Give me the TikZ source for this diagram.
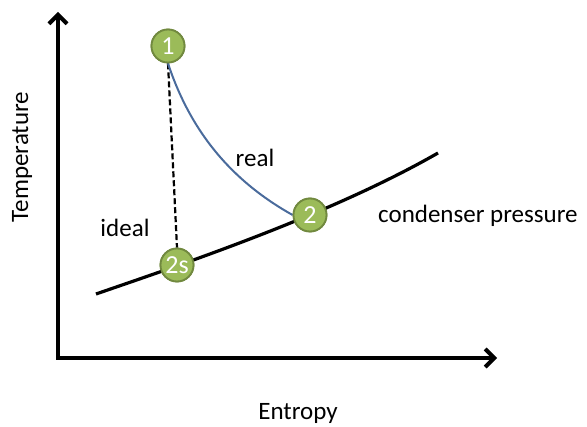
\documentclass[tikz,border=0pt]{standalone}
\usepackage{fontspec}
\setmainfont{Carlito}
\usetikzlibrary{arrows.meta}
\definecolor{ptfill}{HTML}{9BBB59}
\definecolor{ptdraw}{HTML}{71893F}
\definecolor{realblue}{HTML}{4A6B9C}
\begin{document}
\begin{tikzpicture}[x=1pt,y=-1pt,
  pt/.style={circle,fill=ptfill,draw=ptdraw,line width=1.8pt,minimum size=33pt,inner sep=0pt,text=white,font=\fontsize{26}{26}\selectfont},
  axis/.style={line width=4pt,-{Straight Barb[length=9pt,width=18pt,line width=4pt]}},
  lbl/.style={font=\fontsize{25}{28}\selectfont,inner sep=0pt}]
\useasboundingbox (0,0) rectangle (587,427);
\coordinate (O) at (58,358);
\coordinate (ytip) at (58,12);
\coordinate (xtip) at (497,358);
\draw[axis] (O) -- (ytip);
\draw[axis] ([xshift=-2pt]O) -- (xtip);
\coordinate (cs) at (96,294);
\coordinate (ce) at (438,153);
\node[pt] (p1) at (168,46) {1};
\node[pt] (p2s) at (177,265) {2s};
\node[pt] (p2) at (310,215) {2};
\draw[line width=3.2pt] (cs) .. controls (180,265) and (330,215) .. (ce);
\draw[line width=2.2pt,dash pattern=on 6pt off 3pt] (p1.south) -- (p2s.north);
\draw[realblue,line width=2pt] (p1.south) .. controls (190,130) and (230,180) .. (p2.west);
\node[pt] at (p1) {1};
\node[pt] at (p2s) {2s};
\node[pt] at (p2) {2};
\node[lbl] (ideal) at (125,228) {ideal};
\node[lbl] (real) at (255,158) {real};
\node[lbl,anchor=west] (cond) at (378,216) {condenser pressure};
\node[lbl,rotate=90] (temp) at (22,157) {Temperature};
\node[lbl] (ent) at (298,413) {Entropy};
\end{tikzpicture}
\end{document}
